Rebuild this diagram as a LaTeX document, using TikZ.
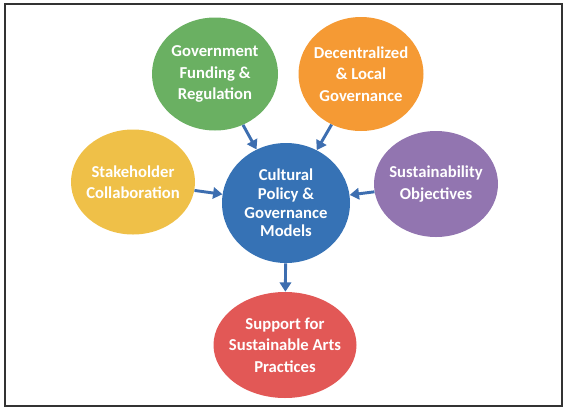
\documentclass[tikz,border=0pt]{standalone}
\usepackage{fontspec}
\setmainfont{Carlito}
\usetikzlibrary{shapes.geometric,arrows.meta}

\definecolor{govgreen}{RGB}{106,176,98}
\definecolor{localorange}{RGB}{245,154,52}
\definecolor{stakeyellow}{RGB}{239,192,72}
\definecolor{sustpurple}{RGB}{146,117,176}
\definecolor{coreblue}{RGB}{54,114,181}
\definecolor{artsred}{RGB}{226,88,86}
\definecolor{arrowblue}{RGB}{61,110,176}

\tikzset{
  blob/.style={ellipse,inner sep=-9pt,text=white,align=center,font=\bfseries\fontsize{12.5}{16}\selectfont},
  feed/.style={draw=arrowblue,line width=2.2pt,-{Triangle[width=8.5pt,length=7pt]}}
}

\begin{document}
\begin{tikzpicture}[x=0.75pt,y=-0.75pt]
  \useasboundingbox (0,0) rectangle (567,411);
  \draw[black!80,line width=1.2pt] (5,4) rectangle (562,406);
  \node[blob,fill=govgreen,minimum width=94.5pt,minimum height=84.75pt] (gov) at (215,74) {Government\\Funding \&\\Regulation};
  \node[blob,fill=localorange,minimum width=93.75pt,minimum height=85.5pt] (local) at (361,74) {Decentralized\\\& Local\\Governance};
  \node[blob,fill=stakeyellow,minimum width=93pt,minimum height=78.75pt] (stake) at (133,182) {Stakeholder\\Collaboration};
  \node[blob,fill=sustpurple,minimum width=93pt,minimum height=79.5pt] (sust) at (436,184) {Sustainability\\Objectives};
  \node[blob,fill=coreblue,minimum width=96pt,minimum height=90pt,font=\bfseries\fontsize{12.5}{14}\selectfont] (core) at (286,203) {Cultural\\Policy \&\\Governance\\Models};
  \node[blob,fill=artsred,minimum width=107.25pt,minimum height=79.5pt] (arts) at (285,345) {Support for\\Sustainable Arts\\Practices};
  \draw[feed] (gov) -- (core);
  \draw[feed] (local) -- (core);
  \draw[feed] (stake) -- (core);
  \draw[feed] (sust) -- (core);
  \draw[feed] (core) -- (arts);
\end{tikzpicture}
\end{document}
